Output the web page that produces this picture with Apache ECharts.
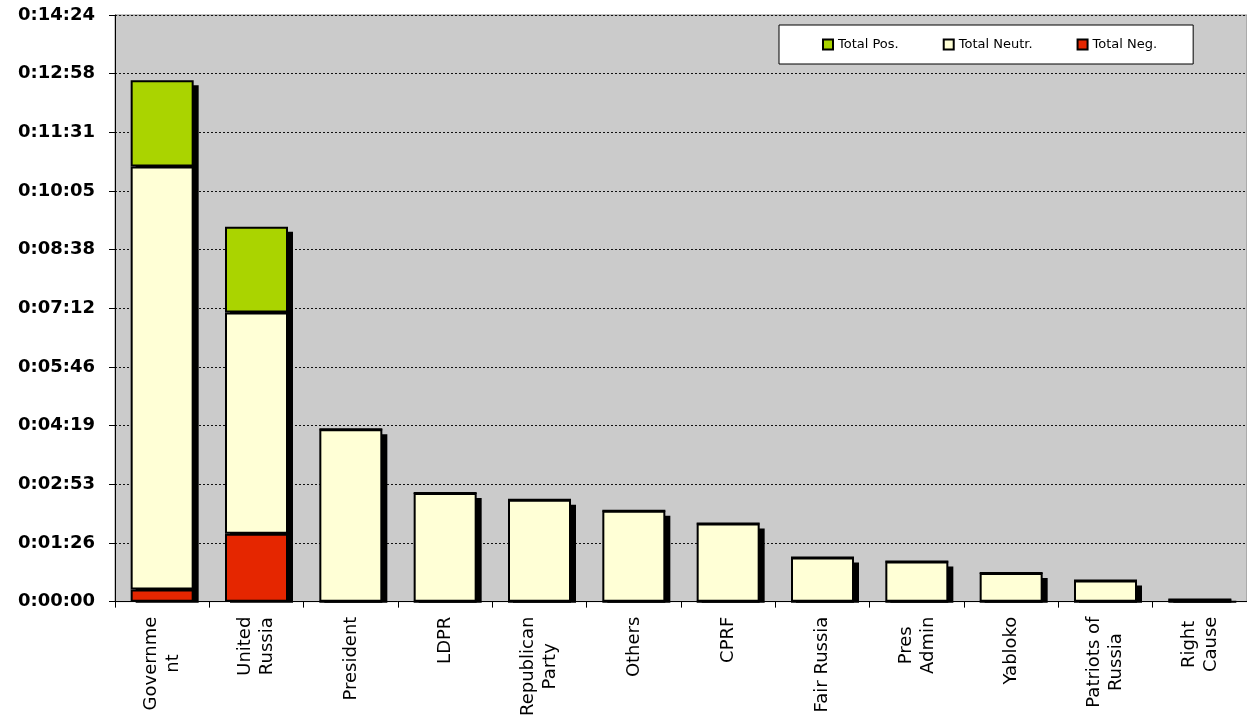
<!DOCTYPE html>
<html>
<head>
<meta charset="utf-8">
<script src="https://cdn.jsdelivr.net/npm/echarts@6/dist/echarts.min.js"></script>
<style>
html,body{margin:0;padding:0;background:#fff;}
#chart{width:1247px;height:719px;}
</style>
</head>
<body>
<div id="chart"></div>
<script>
// Data (seconds)
const categories = ['Governme\nnt', 'United\nRussia', 'President', 'LDPR', 'Republican\nParty', 'Others', 'CPRF', 'Fair Russia', 'Pres\nAdmin', 'Yabloko', 'Patriots of\nRussia', 'Right\nCause'];
const totalNeg = [18, 100, 0, 0, 0, 0, 0, 0, 0, 0, 0, 0];
const totalNeutr = [623, 326, 254, 160, 150, 134, 115, 65, 59, 42, 31, 3];
const totalPos = [127, 126, 0, 0, 0, 0, 0, 0, 0, 0, 0, 0];
const yTickLabels = ['0:00:00', '0:01:26', '0:02:53', '0:04:19', '0:05:46', '0:07:12', '0:08:38', '0:10:05', '0:11:31', '0:12:58', '0:14:24'];

const totals = categories.map((c, i) => totalNeg[i] + totalNeutr[i] + totalPos[i]);
const BAR_W = 63;
const SH = 5;

function fmtTime(v) {
  const idx = Math.round(v / 86.4);
  if (yTickLabels[idx] !== undefined && Math.abs(idx * 86.4 - v) < 0.01) return yTickLabels[idx];
  const s = Math.round(v);
  const h = Math.floor(s / 3600), m = Math.floor((s % 3600) / 60), ss = s % 60;
  return h + ':' + String(m).padStart(2, '0') + ':' + String(ss).padStart(2, '0');
}

const chart = echarts.init(document.getElementById('chart'));
const barStyle = (color) => ({ color: color, borderColor: '#000', borderWidth: 2 });

chart.setOption({
  animation: false,
  backgroundColor: '#fff',
  grid: {
    left: 115, right: 0, top: 15, bottom: 117,
    show: true, backgroundColor: '#cbcbcb', borderColor: '#8a8a8a', borderWidth: 1
  },
  legend: {
    data: ['Total Pos.', 'Total Neutr.', 'Total Neg.'],
    left: 779, top: 25,
    backgroundColor: '#fff', borderColor: '#000', borderWidth: 1,
    padding: [13, 36, 13, 43],
    itemGap: 44, itemWidth: 10, itemHeight: 10,
    icon: 'rect',
    itemStyle: { borderColor: '#000', borderWidth: 2 },
    textStyle: { fontFamily: 'DejaVu Sans', fontSize: 13, color: '#000' }
  },
  xAxis: {
    type: 'category',
    data: categories,
    axisLine: { lineStyle: { color: '#000', width: 1 } },
    axisTick: { show: true, length: 6, lineStyle: { color: '#000' } },
    axisLabel: {
      rotate: 90, margin: 15, color: '#000',
      fontFamily: 'DejaVu Sans', fontSize: 18, lineHeight: 22,
      formatter: (v) => v.split('\n').map(s => '{c|' + s + '}').join('\n'),
      rich: { c: { align: 'center', fontFamily: 'DejaVu Sans', fontSize: 18, lineHeight: 22, color: '#000' } }
    },
    splitLine: { show: false }
  },
  yAxis: {
    type: 'value',
    min: 0, max: 864, interval: 86.4,
    axisLine: { show: true, lineStyle: { color: '#000', width: 1 } },
    axisTick: { show: true, length: 6, lineStyle: { color: '#000' } },
    axisLabel: {
      margin: 20, color: '#000', fontFamily: 'DejaVu Sans', fontWeight: 'bold', fontSize: 18,
      formatter: fmtTime
    },
    splitLine: { show: true, lineStyle: { color: '#111', width: 1, type: [2, 2] } }
  },
  series: [
    {
      name: 'shadow',
      type: 'custom',
      z: 1,
      silent: true,
      data: totals.map((t, i) => [i, t]),
      encode: { x: 0, y: 1 },
      renderItem: function (params, api) {
        const top = api.coord([api.value(0), api.value(1)]);
        const base = api.coord([api.value(0), 0]);
        const y0 = top[1] + SH;
        const h = Math.max(base[1] + 1 - y0, 2);
        return {
          type: 'rect',
          shape: { x: top[0] - BAR_W / 2 + SH, y: Math.min(y0, base[1] - 1), width: BAR_W, height: h },
          style: { fill: '#000' }
        };
      }
    },
    {
      name: 'Total Neg.', type: 'bar', stack: 'a', barWidth: BAR_W, z: 2,
      itemStyle: barStyle('#e52600'), data: totalNeg
    },
    {
      name: 'Total Neutr.', type: 'bar', stack: 'a', barWidth: BAR_W, z: 2,
      itemStyle: barStyle('#ffffd6'), data: totalNeutr
    },
    {
      name: 'Total Pos.', type: 'bar', stack: 'a', barWidth: BAR_W, z: 2,
      itemStyle: barStyle('#aad400'), data: totalPos
    }
  ]
});
</script>
</body>
</html>
